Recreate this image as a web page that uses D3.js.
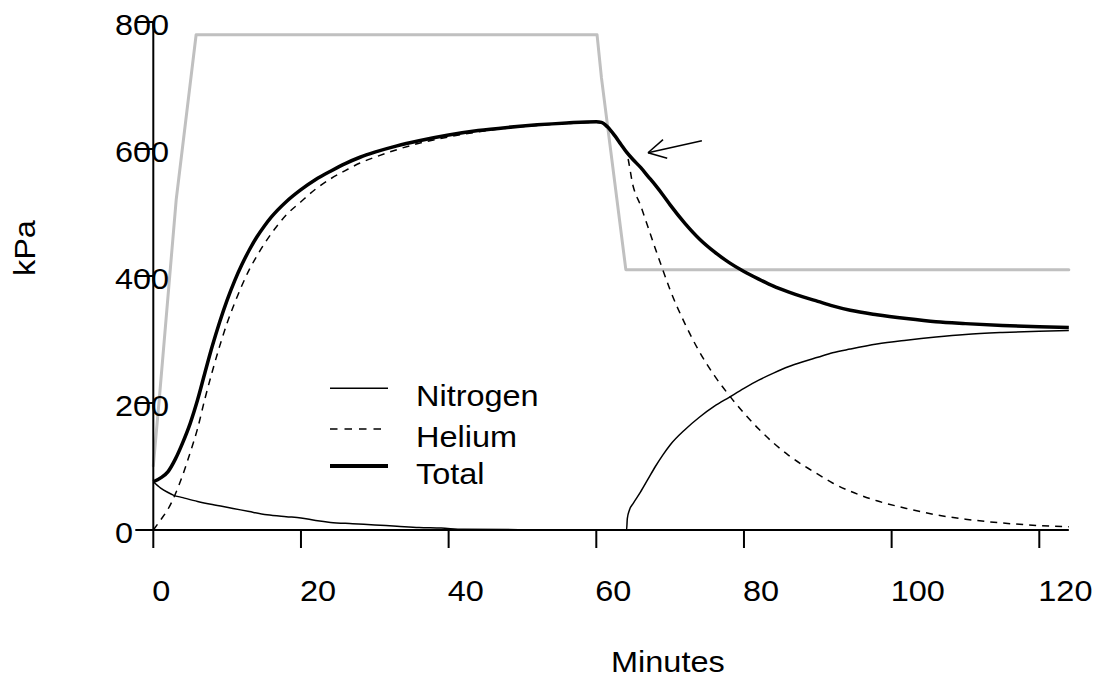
<!DOCTYPE html>
<html>
<head>
<meta charset="utf-8">
<script src="https://cdn.jsdelivr.net/npm/d3@7"></script>
<style>
  html, body { margin: 0; padding: 0; background: #fff; }
  svg text { font-family: "Liberation Sans", Arial, sans-serif; fill: #000; }
</style>
</head>
<body>
<svg id="chart" width="1096" height="681"></svg>
<script>
// ---------- data ----------
const xTicks = [0, 20, 40, 60, 80, 100, 120];
const yTicks = [0, 200, 400, 600, 800];
const xLabel = "Minutes";
const yLabel = "kPa";
const legendLabels = ["Nitrogen", "Helium", "Total"];

// ambient pressure (grey)
const ambientTime  = [0, 0.8, 3.1, 5.8, 60.1, 60.7, 64.0, 124];
const ambientValue = [101, 205, 520, 780, 780, 712, 410, 410];

// nitrogen partial pressure
const n2Time  = [0, 1, 2, 2.7, 4, 6, 8, 10.8, 13, 15.4, 18, 20, 22, 24, 27, 30, 33, 36, 39, 42, 50, 60, 63.9,
                 64.1, 64.2, 64.5, 65, 66, 67, 68, 69, 70, 72, 74, 76, 78, 80, 82, 84, 86, 88, 90, 92, 94.4,
                 98, 102, 106, 110, 115, 120, 124];
const n2Value = [76, 66, 59, 55, 51, 45, 40, 34, 29, 24, 21, 19, 15, 12, 10, 8, 6, 4, 3, 1, 0.5, 0.3, 0.3,
                 0, 18, 32, 42, 60, 80, 100, 118, 134, 158, 178, 195, 209, 223, 236, 247, 257, 265, 272, 279, 285,
                 293, 299, 304, 308, 311, 313, 314];

// helium partial pressure
const heTime  = [0, 1, 2, 3, 4, 5, 6, 7, 8, 9, 10, 11, 12, 13, 14, 15, 16, 18, 20, 22, 24, 26, 28, 30, 33, 36, 40,
                 44, 48, 52, 56, 60, 60.7, 61.5, 62.5, 63.3, 64.1, 65, 66, 67, 68, 69, 70, 72, 74, 76, 78, 80,
                 82, 84, 86, 88, 90, 92, 94.4, 98, 102, 106, 110, 115, 120, 124];
const heValue = [0, 16, 33, 57, 87, 122, 160, 207, 250, 290, 326, 357, 385, 410, 431, 450, 467, 496, 517, 537, 553,
                 566, 578, 587, 599, 609, 619, 627, 633, 637, 640, 642, 641, 634, 620, 607, 594, 541, 511, 477, 443,
                 410, 378, 325, 280, 243, 212, 184, 159, 137, 118, 102, 88, 74, 61, 46, 34, 24, 17, 11, 7, 5];

// total inert gas pressure
const totalTime  = [0, 1, 2, 3, 4, 5, 6, 7, 8, 9, 10, 11, 12, 13, 14, 15, 16, 18, 20, 22, 24, 26, 28, 30, 33, 36,
                    40, 44, 48, 52, 56, 60, 60.7, 61.5, 62.5, 63.3, 64.1, 65, 66, 67, 68, 69, 70, 72, 74, 76,
                    78, 80, 82, 84, 86, 88, 90, 92, 94.4, 98, 102, 106, 110, 115, 120, 124];
const totalValue = [76, 82, 92, 112, 138, 168, 205, 248, 290, 328, 362, 392, 418, 441, 461, 478, 493, 517, 536,
                    552, 565, 577, 587, 595, 605, 613, 622, 629, 634, 638, 641, 643, 642, 635, 621, 608, 595, 583,
                    571, 557, 543, 528, 512, 483, 458, 438, 421, 407, 395, 384, 375, 367, 360, 353, 346, 339, 333,
                    328, 325, 322, 320, 319];

// annotation arrow (tail -> tip) in data units
const arrowTail = [74.3, 613];
const arrowTip  = [67.0, 594];

// ---------- drawing ----------
const svg = d3.select("#chart");
const x = d3.scaleLinear().domain([0, 120]).range([153.3, 1039.3]);
const y = d3.scaleLinear().domain([0, 800]).range([530, 22]);
const SX = 1.12;      // horizontal stretch of the reference lettering
const FS = 29;

function txt(g, s, tx, ty, extra) {
  return g.append("text")
    .attr("transform", `translate(${tx},${ty}) ${extra || ""} scale(${SX},1)`)
    .attr("font-size", FS)
    .attr("text-anchor", "start")
    .text(s);
}

const pts = (ts, vs) => ts.map((t, i) => [t, vs[i]]);
const line = d3.line().x(d => x(d[0])).y(d => y(d[1]));

// ambient grey line
svg.append("path").datum(pts(ambientTime, ambientValue))
  .attr("d", line).attr("fill", "none").attr("stroke", "#c0c0c0")
  .attr("stroke-width", 3).attr("stroke-linejoin", "round").attr("stroke-linecap", "round");

// axes
const axes = svg.append("g");
axes.append("line").attr("x1", x(0)).attr("x2", x(0)).attr("y1", y(800)).attr("y2", y(0))
  .attr("stroke", "#000").attr("stroke-width", 2);
axes.append("line").attr("x1", x(0)).attr("x2", x(124)).attr("y1", y(0)).attr("y2", y(0))
  .attr("stroke", "#000").attr("stroke-width", 2);
xTicks.forEach(t => {
  axes.append("line").attr("x1", x(t)).attr("x2", x(t)).attr("y1", y(0)).attr("y2", y(0) + 18)
    .attr("stroke", "#000").attr("stroke-width", 2);
  txt(axes, String(t), x(t) - 1, y(0) + 71);
});
yTicks.forEach(v => {
  axes.append("line").attr("x1", x(0) - 18).attr("x2", x(0)).attr("y1", y(v)).attr("y2", y(v))
    .attr("stroke", "#000").attr("stroke-width", 2);
  txt(axes, String(v), 115, y(v) + 12.5);
});
txt(svg, xLabel, (x(0) + x(124)) / 2, 672);
txt(svg, yLabel, 35, (y(0) + y(800)) / 2, "rotate(-90)");

// series
const smooth = d3.line().x(d => x(d[0])).y(d => y(d[1])).curve(d3.curveMonotoneX);
svg.append("path").datum(pts(n2Time, n2Value)).attr("d", smooth)
  .attr("fill", "none").attr("stroke", "#000").attr("stroke-width", 1.5);
svg.append("path").datum(pts(heTime, heValue)).attr("d", smooth)
  .attr("fill", "none").attr("stroke", "#000").attr("stroke-width", 1.5).attr("stroke-dasharray", "7,6");
svg.append("path").datum(pts(totalTime, totalValue)).attr("d", smooth)
  .attr("fill", "none").attr("stroke", "#000").attr("stroke-width", 3.5).attr("stroke-linejoin", "round");

// arrow annotation
const tip = [x(arrowTip[0]), y(arrowTip[1])];
const tail = [x(arrowTail[0]), y(arrowTail[1])];
const ang = Math.atan2(tail[1] - tip[1], tail[0] - tip[0]);
const ah = 20, spread = 0.5;
const ag = svg.append("g").attr("stroke", "#000").attr("stroke-width", 1.5).attr("fill", "none");
ag.append("line").attr("x1", tail[0]).attr("y1", tail[1]).attr("x2", tip[0]).attr("y2", tip[1]);
[-spread, spread].forEach(s => {
  ag.append("line").attr("x1", tip[0]).attr("y1", tip[1])
    .attr("x2", tip[0] + ah * Math.cos(ang + s)).attr("y2", tip[1] + ah * Math.sin(ang + s));
});

// legend
const legendStyles = [
  { w: 1.5, dash: null },
  { w: 1.5, dash: "7.5,7" },
  { w: 4, dash: null }
];
const legendY = [388.3, 429, 466];
const lg = svg.append("g");
legendLabels.forEach((name, i) => {
  lg.append("line").attr("x1", 330).attr("x2", 388).attr("y1", legendY[i]).attr("y2", legendY[i])
    .attr("stroke", "#000").attr("stroke-width", legendStyles[i].w)
    .attr("stroke-dasharray", legendStyles[i].dash);
  txt(lg, name, 416, legendY[i] + 17.5);
});
</script>
</body>
</html>
